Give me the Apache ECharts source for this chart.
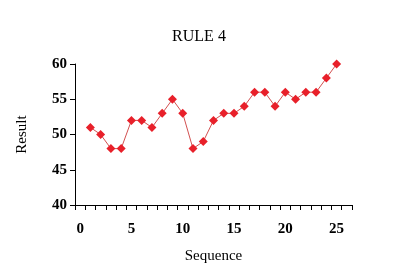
<!DOCTYPE html>
<html><head><meta charset="utf-8">
<script src="https://cdn.jsdelivr.net/npm/echarts@6/dist/echarts.min.js"></script>
<style>html,body{margin:0;padding:0;background:#fff}#c{width:398px;height:278px}</style>
</head><body><div id="c"></div>
<script>
var categories = ['0','1','2','3','4','5','6','7','8','9','10','11','12','13','14','15','16','17','18','19','20','21','22','23','24','25','26'];
var seqValues = [1,2,3,4,5,6,7,8,9,10,11,12,13,14,15,16,17,18,19,20,21,22,23,24,25];
var results = [51,50,48,48,52,52,51,53,55,53,48,49,52,53,53,54,56,56,54,56,55,56,56,58,60];
var yTicks = [40,45,50,55,60];

var chart = echarts.init(document.getElementById('c'));
var ff = '"Liberation Serif","Times New Roman",serif';
chart.setOption({
  animation: false,
  title: {text: 'RULE 4', left: 'center', top: 24, textStyle: {fontFamily: ff, fontSize: 16, fontWeight: 'normal', color: '#000'}},
  grid: {left: 75, right: 46, top: 64, bottom: 73},
  xAxis: {
    type: 'category', data: categories, boundaryGap: true,
    name: 'Sequence', nameLocation: 'middle', nameGap: 44,
    nameTextStyle: {fontFamily: ff, fontSize: 15, color: '#000'},
    axisLine: {lineStyle: {color: '#000', width: 1}},
    axisTick: {show: true, interval: 0, length: 5, lineStyle: {color: '#000'}},
    axisLabel: {interval: 4, margin: 17, fontFamily: ff, fontSize: 15, fontWeight: 'bold', color: '#000'},
    splitLine: {show: false}
  },
  yAxis: {
    type: 'value', min: yTicks[0], max: yTicks[yTicks.length-1], interval: 5,
    name: 'Result', nameLocation: 'middle', nameGap: 45, nameRotate: 90,
    nameTextStyle: {fontFamily: ff, fontSize: 15, color: '#000'},
    axisLine: {show: true, lineStyle: {color: '#000', width: 1}},
    axisTick: {show: true, length: 5, lineStyle: {color: '#000'}},
    axisLabel: {margin: 8, fontFamily: ff, fontSize: 15, fontWeight: 'bold', color: '#000'},
    splitLine: {show: false}
  },
  series: [{
    type: 'line',
    data: seqValues.map(function(s, i){ return [String(s), results[i]]; }),
    showAllSymbol: true,
    symbol: 'diamond', symbolSize: 9,
    itemStyle: {color: '#e8202a'},
    lineStyle: {color: '#d25050', width: 1}
  }]
});
</script></body></html>
